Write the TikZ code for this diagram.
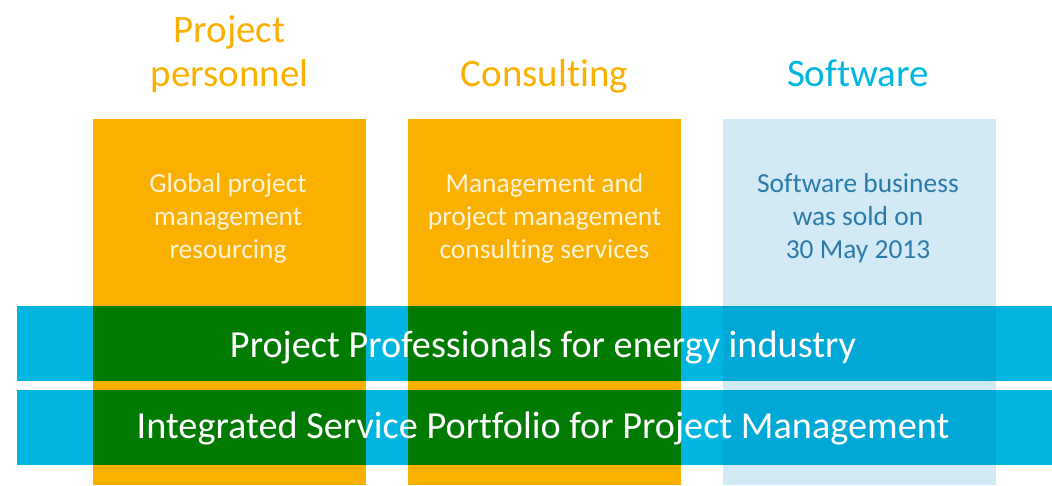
\documentclass[tikz,border=0pt]{standalone}
\usepackage{fontspec}
\setmainfont{Carlito}[Ligatures=NoCommon]
\usetikzlibrary{positioning}
\definecolor{ppOrange}{HTML}{F9B000}
\definecolor{ppBlue}{HTML}{00B5DF}
\definecolor{ppGreen}{HTML}{007A00}
\definecolor{ppPale}{HTML}{D2EAF5}
\definecolor{ppDeep}{HTML}{00A8D6}
\definecolor{ppText}{HTML}{2B7BAA}
\definecolor{ppLight}{HTML}{FFF3D6}
\tikzset{
  headtext/.style={text=ppOrange, align=center, inner sep=0pt, font=\fontsize{29.2}{32.25}\selectfont},
  boxtext/.style={text=ppLight, align=center, inner sep=0pt, font=\fontsize{20.6}{24.75}\selectfont},
  bartext/.style={text=white, inner sep=0pt, font=\fontsize{28.7}{32}\selectfont},
}
\begin{document}
\begin{tikzpicture}[x=0.75pt,y=0.75pt,yscale=-1,xscale=1]
  \useasboundingbox (0,0) rectangle (1052,485);

  %Shape: Rectangle [columns]
  \fill [ppOrange] (93,119) rectangle (366,485);
  \fill [ppOrange] (408,119) rectangle (681,485);
  \fill [ppPale] (723,119) rectangle (996,485);

  %Shape: Rectangle [bars]
  \fill [ppBlue] (17,306) rectangle (1052,381);
  \fill [ppBlue] (17,390) rectangle (1052,465);

  %Shape: Rectangle [overlaps]
  \fill [ppGreen] (93,306) rectangle (366,381);
  \fill [ppGreen] (93,390) rectangle (366,465);
  \fill [ppGreen] (408,306) rectangle (681,381);
  \fill [ppGreen] (408,390) rectangle (681,465);
  \fill [ppDeep] (723,306) rectangle (996,381);
  \fill [ppDeep] (723,390) rectangle (996,465);

  % Text Node
  \node [headtext, anchor=base] (headpers) at (229.5,86) {Project\\personnel};
  % Text Node
  \node [headtext, anchor=base] (headcons) at (544.5,86) {Consulting};
  % Text Node
  \node [headtext, anchor=base, text=ppBlue] (headsoft) at (858,86) {Software};

  % Text Node
  \node [boxtext, anchor=base] (txtpers) at (228,258) {Global project\\management\\resourcing};
  % Text Node
  \node [boxtext, anchor=base] (txtcons) at (544.5,258) {Management and\\project management\\consulting services};
  % Text Node
  \node [boxtext, anchor=base, text=ppText] (txtsoft) at (858,258) {Software business\\was sold on\\30 May 2013};

  % Text Node
  \node [bartext, anchor=base] (barone) at (543,357) {Project Professionals for energy industry};
  % Text Node
  \node [bartext, anchor=base] (bartwo) at (543,438) {Integrated Service Portfolio for Project Management};
\end{tikzpicture}
\end{document}
